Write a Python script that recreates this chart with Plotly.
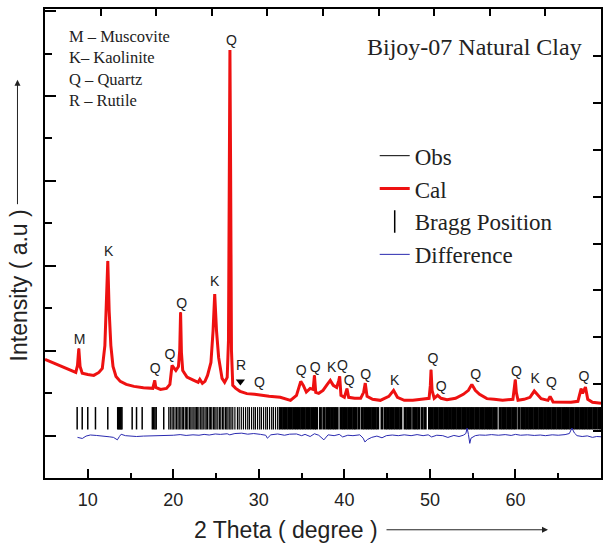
import plotly.graph_objects as go

# ---------------- data ----------------
two_theta = [5.0, 5.8, 6.6, 7.4, 8.2, 8.6, 8.8, 8.95, 9.1, 9.35, 10.0, 10.7, 11.3, 11.7,
             12.0, 12.2, 12.34, 12.5, 12.7, 12.95, 13.3, 13.8, 14.5, 15.4, 16.5, 17.6,
             17.83, 17.95, 18.5, 19.2, 19.6, 19.85, 20.05, 20.3, 20.6, 20.75, 20.85, 20.95,
             21.1, 21.6, 22.4, 22.9, 23.1, 23.4, 23.7, 24.0, 24.4, 24.65, 24.84, 25.05,
             25.3, 25.7, 26.0, 26.3, 26.45, 26.55, 26.62, 26.7, 26.8, 26.95, 27.3, 27.8,
             28.6, 29.5, 30.2, 31.2, 32.5, 33.7, 34.4, 34.7, 34.9, 35.2, 35.55, 36.0,
             36.35, 36.5, 36.65, 37.0, 37.5, 38.0, 38.35, 38.7, 39.1, 39.35, 39.45, 39.6,
             40.0, 40.3, 40.5, 41.2, 41.9, 42.25, 42.44, 42.65, 43.3, 44.2, 45.2, 45.75,
             46.2, 47.0, 48.0, 49.0, 49.9, 50.05, 50.13, 50.25, 50.5, 50.9, 51.3, 52.0,
             53.0, 53.9, 54.5, 54.9, 55.3, 55.8, 56.66, 57.5, 58.5, 59.7, 59.9, 59.98,
             60.1, 60.3, 61.0, 61.7, 62.2, 62.6, 63.0, 63.8, 64.05, 64.4, 65.5, 66.5,
             67.3, 67.68, 67.85, 68.18, 68.45, 69.0, 70.0]
intensity = [1794, 1724, 1653, 1583, 1524, 1489, 1653, 2052, 1630, 1473, 1442, 1419, 1489, 1583,
             2122, 3178, 4115, 2943, 2122, 1630, 1395, 1278, 1208, 1161, 1126, 1114,
             1301, 1137, 1090, 1114, 1208, 1653, 1606, 1536, 1630, 2005, 2903, 1958,
             1536, 1379, 1301, 1255, 1325, 1231, 1278, 1419, 1724, 2474, 3335, 2474,
             1841, 1348, 1255, 1372, 2239, 6695, 9080, 6226, 2005, 1184, 1114, 1044,
             990, 973, 950, 926, 903, 832, 950, 1161, 1278, 1184, 1027, 1114,
             1090, 1419, 1020, 997, 1067, 1208, 1301, 1184, 1137, 1301, 1395, 950,
             903, 1107, 903, 879, 879, 1020, 1238, 926, 856, 832, 926, 1067,
             903, 832, 832, 856, 879, 1184, 1552, 1067, 879, 950, 879, 849,
             879, 973, 1067, 1208, 1067, 973, 872, 856, 832, 856, 1184, 1318,
             1020, 832, 856, 903, 1051, 950, 872, 832, 926, 793, 786, 786,
             809, 1107, 997, 1144, 856, 786, 762]

diff_theta = [8.8, 9.36, 9.8, 10.3, 11.0, 11.8, 12.5, 13.0, 13.46, 13.7, 13.9, 14.4, 15.0, 15.7,
              16.5, 17.4, 18.2, 19.0, 19.4, 20.0, 20.8, 21.5, 22.3, 23.0, 23.6, 24.2, 24.9,
              25.5, 26.3, 26.6, 27.2, 28.0, 28.7, 29.4, 30.2, 30.8, 31.0, 31.4, 32.2, 33.0,
              33.6, 34.4, 35.0, 35.4, 36.0, 36.5, 37.0, 37.6, 38.1, 38.8, 39.4, 39.8, 40.4,
              41.0, 41.8, 42.2, 42.4, 42.7, 43.2, 43.8, 44.4, 44.9, 45.6, 46.3, 47.0, 47.8,
              48.5, 49.2, 49.8, 50.2, 50.8, 51.5, 52.1, 52.8, 53.4, 53.9, 54.2, 54.35, 54.5,
              54.66, 54.8, 55.3, 55.8, 56.5, 57.2, 58.0, 58.8, 59.5, 60.0, 60.6, 61.4, 62.2,
              62.9, 63.5, 64.3, 65.0, 65.8, 66.3, 66.6, 66.9, 67.2, 67.8, 68.4, 69.0, 69.5, 70.0]
diff_vals = [-40, -66, -10, 16, 5, -5, -26, -40, -98, -20, 33, 0, -10, -20,
             -10, -5, 0, -5, 5, 10, 25, 5, 20, 10, 30, 15, 40,
             30, 45, 20, 50, 59, 35, 50, 30, 10, -60, 20, 40, 10,
             35, 40, 0, 30, -20, 45, 10, -98, 20, 0, 30, -30, 10,
             0, 20, -60, -148, -90, -40, -10, -50, 0, 15, 0, 20, 0,
             25, 0, 20, -30, 10, 0, -42, 5, -20, 10, 50, 178, 30,
             -181, -60, 0, 16, 10, 25, 10, 25, 5, 30, 10, 20, 5,
             15, 0, 20, 10, 25, 50, 178, 60, 0, -20, -5, -40, -20, -26]

bragg_sparse = [8.76, 9.35, 10.0, 10.9, 12.34, 13.5, 13.6, 13.7, 13.8, 13.9, 14.0, 15.19,
                15.7, 16.36, 17.55, 17.7, 17.85, 18.0, 18.88]
bragg_medium = [19.47, 19.65, 19.85, 20.0, 20.2, 20.38, 20.55, 20.7, 20.88, 21.05, 21.2, 21.4,
                21.55, 21.7, 21.9, 22.05, 22.2, 22.4, 22.55, 22.7, 22.85, 23.0, 23.2, 23.35,
                23.5, 23.7, 23.85, 24.0, 24.2, 24.35, 24.5, 24.7, 24.85, 25.0, 25.2, 25.4,
                25.55, 25.75, 25.9, 26.1, 26.25, 26.4, 26.6, 26.75, 26.95, 27.2, 27.5, 27.7,
                27.95, 28.2, 28.45, 28.7, 28.9, 29.15, 29.4, 29.6, 29.85, 30.1, 30.3, 30.55,
                30.8, 31.0, 31.25, 31.5, 31.7, 31.95, 32.2, 32.4]
bragg_dense = [32.6, 32.9, 33.2, 33.5, 33.8, 34.1, 34.4, 34.7, 35.0, 35.3, 35.6, 35.9, 36.2,
               36.5, 36.75, 37.2, 37.6, 37.95, 38.25, 38.55, 38.85, 39.15, 39.6, 39.9, 40.2,
               40.5, 40.8, 41.1, 41.35, 41.7, 42.1, 42.4, 42.7, 43.0, 43.3, 43.6, 43.9, 44.4,
               44.8, 45.1, 45.4, 45.7, 46.0, 46.3, 46.6, 47.1, 47.4, 47.7, 48.1, 48.4, 48.7,
               49.1, 49.45, 49.95, 50.25, 50.55, 50.85, 51.15, 51.45, 51.75, 52.05, 52.35,
               52.65, 52.95, 53.25, 53.55, 53.85, 54.15, 54.45, 54.75, 55.05, 55.35, 55.65,
               55.95, 56.25, 56.55, 56.85, 57.15, 57.45, 57.75, 58.2, 58.5, 58.8, 59.1, 59.4,
               59.7, 60.0, 60.4, 60.75, 61.05, 61.35, 61.65, 61.95, 62.25, 62.55, 62.85,
               63.15, 63.45, 63.75, 64.05, 64.35, 64.65, 64.95, 65.25, 65.55, 65.85, 66.15,
               66.45, 66.75, 67.05, 67.35, 67.65, 67.95, 68.25, 68.55, 68.85, 69.15, 69.45,
               69.75, 70.0]
bragg_level = 410

peak_theta = [9.04, 12.45, 17.87, 19.6, 20.97, 24.84, 26.8, 27.93, 30.08, 34.95, 36.59, 38.5,
              39.78, 40.55, 42.5, 45.87, 50.34, 51.33, 55.34, 60.13, 62.31, 64.22, 68.0]
peak_int = [2247, 4312, 1569, 1878, 3088, 3611, 9289, 1634, 1224, 1513, 1592, 1576,
            1634, 1266, 1428, 1283, 1796, 1126, 1428, 1487, 1332, 1224, 1362]
peak_labels = ["M", "K", "Q", "Q", "Q", "K", "Q", "R", "Q", "Q", "Q", "K",
               "Q", "Q", "Q", "K", "Q", "Q", "Q", "Q", "K", "Q", "Q"]

rutile_theta = [27.84]
rutile_int = [1278]

phase_key = ["M – Muscovite", "K– Kaolinite", "Q – Quartz", "R – Rutile"]
sample_name = "Bijoy-07 Natural Clay"

SERIF = "Liberation Serif, Times New Roman, serif"
SANS = "Liberation Sans, Arial, sans-serif"

fig = go.Figure()

fig.add_trace(go.Scatter(x=two_theta, y=intensity, mode="lines", name="Obs",
                         line=dict(color="black", width=1)))
fig.add_trace(go.Scatter(x=two_theta, y=intensity, mode="lines", name="Cal",
                         line=dict(color="#ee1111", width=3)))
fig.add_trace(go.Scatter(x=bragg_sparse, y=[bragg_level] * len(bragg_sparse), mode="markers",
                         name="Bragg Position",
                         marker=dict(symbol="line-ns", size=16, color="black",
                                     line=dict(color="black", width=1.5))))
fig.add_trace(go.Scatter(x=bragg_medium, y=[bragg_level] * len(bragg_medium), mode="markers",
                         showlegend=False,
                         marker=dict(symbol="line-ns", size=16, color="black",
                                     line=dict(color="black", width=1.2))))
fig.add_trace(go.Scatter(x=bragg_dense, y=[bragg_level] * len(bragg_dense), mode="markers",
                         showlegend=False,
                         marker=dict(symbol="line-ns", size=16, color="black",
                                     line=dict(color="black", width=3))))
fig.add_trace(go.Scatter(x=diff_theta, y=diff_vals, mode="lines", name="Difference",
                         line=dict(color="#2a2ab0", width=1)))
fig.add_trace(go.Scatter(x=rutile_theta, y=rutile_int, mode="markers", showlegend=False,
                         marker=dict(symbol="triangle-down", size=8, color="black")))
fig.add_trace(go.Scatter(x=peak_theta, y=peak_int, mode="text", text=peak_labels,
                         showlegend=False,
                         textfont=dict(family=SANS, size=14, color="#222")))
# helper trace for top/right tick axes
fig.add_trace(go.Scatter(x=[5, 70], y=[0, 10], xaxis="x2", yaxis="y2", mode="lines",
                         line=dict(width=0), showlegend=False, hoverinfo="skip"))

fig.update_layout(
    width=611, height=546,
    margin=dict(l=45, r=10, t=7, b=68),
    plot_bgcolor="white", paper_bgcolor="white",
    showlegend=True,
    legend=dict(x=0.593, y=0.733, xanchor="left", yanchor="top",
                font=dict(family=SERIF, size=23, color="#222"),
                bgcolor="rgba(0,0,0,0)", itemsizing="trace", tracegroupgap=0),
    xaxis=dict(range=[5, 70], tick0=0, dtick=10, ticks="inside", ticklen=9, tickwidth=1.5,
               tickcolor="black", showline=True, linecolor="black", linewidth=1.8,
               mirror=True, showgrid=False, zeroline=False, ticklabelstandoff=4,
               tickfont=dict(family=SANS, size=18, color="#222"),
               minor=dict(dtick=5, tick0=0, ticks="inside", ticklen=5, tickwidth=1.5,
                          tickcolor="black", showgrid=False)),
    yaxis=dict(range=[-997, 10048], tick0=0, dtick=2000, ticks="inside", ticklen=11,
               tickwidth=1.5, tickcolor="black", showline=True, linecolor="black",
               linewidth=1.8, mirror=True, showgrid=False, zeroline=False,
               showticklabels=False,
               minor=dict(dtick=1000, tick0=0, ticks="inside", ticklen=7, tickwidth=1.5,
                          tickcolor="black", showgrid=False)),
    xaxis2=dict(range=[5, 70], tick0=5, dtick=6.5, overlaying="x", side="top",
                ticks="inside", ticklen=7, tickwidth=1.5, tickcolor="black",
                showticklabels=False, showgrid=False, zeroline=False, showline=False),
    yaxis2=dict(range=[0, 10], tick0=0, dtick=1, overlaying="y", side="right",
                ticks="inside", ticklen=8, tickwidth=1.5, tickcolor="black",
                showticklabels=False, showgrid=False, zeroline=False, showline=False),
)

annotations = [
    dict(text="<br>".join(phase_key), xref="paper", yref="paper", x=0.039, y=0.873,
         xanchor="left", yanchor="middle", align="left", showarrow=False,
         font=dict(family=SERIF, size=16.5, color="#222")),
    dict(text=sample_name, xref="paper", yref="paper", x=0.7725, y=0.919,
         xanchor="center", yanchor="middle", showarrow=False,
         font=dict(family=SERIF, size=24, color="#222")),
    dict(text="2 Theta ( degree )", xref="paper", yref="paper", x=0.4343, y=-0.1104,
         xanchor="center", yanchor="middle", showarrow=False,
         font=dict(family=SANS, size=23, color="#222")),
    dict(text="Intensity ( a.u )", xref="paper", yref="paper", x=-0.0473, y=0.410,
         xanchor="center", yanchor="middle", textangle=-90, showarrow=False,
         font=dict(family=SANS, size=23, color="#222")),
    dict(text="", xref="paper", yref="paper", x=0.9047, y=-0.1104, ax=-163, ay=0,
         showarrow=True, arrowhead=2, arrowsize=1.2, arrowwidth=1, arrowcolor="#222"),
    dict(text="", xref="paper", yref="paper", x=-0.0495, y=0.8493, ax=0, ay=126,
         showarrow=True, arrowhead=2, arrowsize=1.2, arrowwidth=1, arrowcolor="#222"),
]
fig.update_layout(annotations=annotations)

fig.write_html("out.html")
